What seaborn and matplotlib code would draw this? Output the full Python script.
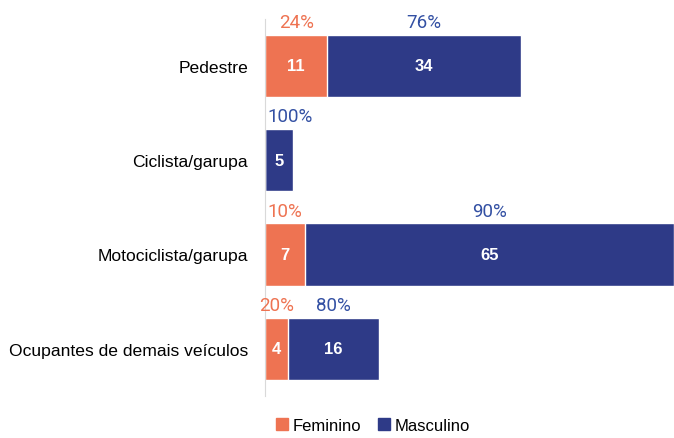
import pandas as pd
import matplotlib.pyplot as plt
import seaborn as sns

categorias = ["Pedestre", "Ciclista/garupa", "Motociclista/garupa", "Ocupantes de demais veículos"]
feminino = [11, 0, 7, 4]
masculino = [34, 5, 65, 16]
pct_fem = ["24%", "", "10%", "20%"]
pct_masc = ["76%", "100%", "90%", "80%"]

laranja = "#EE7352"
azul = "#2E3A87"
azul_txt = "#3350A3"

df = pd.DataFrame({"Categoria": categorias, "Feminino": feminino, "Masculino": masculino})
df["Total"] = df["Feminino"] + df["Masculino"]

sns.set_style("white")
plt.rcParams["font.family"] = ["Liberation Sans", "DejaVu Sans"]
plt.rcParams["text.color"] = "black"
plt.rcParams["ytick.color"] = "black"

fig = plt.figure(figsize=(6.74, 4.39), dpi=100)
ax = fig.add_axes([0.393, 0.096, 0.607, 0.859])

sns.barplot(data=df, x="Total", y="Categoria", color=azul, width=0.66, ax=ax, saturation=1)
sns.barplot(data=df, x="Feminino", y="Categoria", color=laranja, width=0.66, ax=ax, saturation=1)

for i in range(len(categorias)):
    f, m = feminino[i], masculino[i]
    if f > 0:
        ax.text(f / 2, i, str(f), ha="center", va="center", color="white",
                fontsize=12, fontweight="bold")
        ax.text(f / 2, i - 0.37, pct_fem[i], ha="center", va="bottom", color=laranja,
                fontsize=13.5, family=["Roboto", "DejaVu Sans"])
    ax.text(f + m / 2, i, str(m), ha="center", va="center", color="white",
            fontsize=12, fontweight="bold")
    ax.text(f + m / 2 + (2 if f == 0 else 0), i - 0.37, pct_masc[i], ha="center", va="bottom",
            color=azul_txt, fontsize=13.5, family=["Roboto", "DejaVu Sans"])

ax.set_xlim(0, 72)
ax.set_ylim(3.5, -0.5)
ax.set_xlabel("")
ax.set_ylabel("")
ax.set_xticks([])
ax.tick_params(axis="y", length=0, labelsize=12.6, pad=12, labelcolor="black")
for s in ["top", "right", "bottom"]:
    ax.spines[s].set_visible(False)
ax.spines["left"].set_color("#d9d9d9")

handles = [plt.Rectangle((0, 0), 1, 1, color=laranja), plt.Rectangle((0, 0), 1, 1, color=azul)]
fig.legend(handles, ["Feminino", "Masculino"], loc="lower center", bbox_to_anchor=(0.554, -0.022),
           ncol=2, frameon=False, fontsize=12, handlelength=0.7, handleheight=0.7,
           handletextpad=0.3, columnspacing=1.0, labelcolor="black")

fig.savefig("out.png", dpi=100)
